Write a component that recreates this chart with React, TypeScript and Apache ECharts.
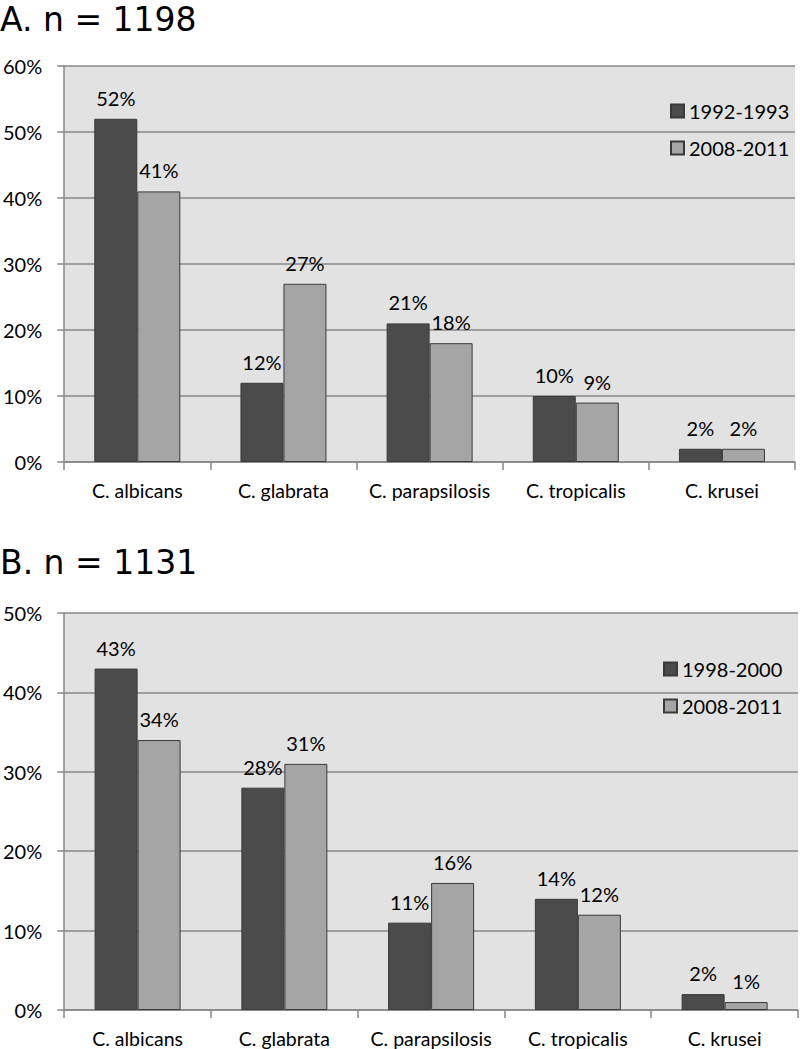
import React, { useEffect, useRef } from "react";
import * as echarts from "echarts";

const categories = ["C. albicans", "C. glabrata", "C. parapsilosis", "C. tropicalis", "C. krusei"];
const seriesA1Name = "1992-1993";
const seriesA2Name = "2008-2011";
const seriesA1 = [52, 12, 21, 10, 2];
const seriesA2 = [41, 27, 18, 9, 2];
const seriesB1Name = "1998-2000";
const seriesB2Name = "2008-2011";
const seriesB1 = [43, 28, 11, 14, 2];
const seriesB2 = [34, 31, 16, 12, 1];
const titleA = "A. n = 1198";
const titleB = "B. n = 1131";
const maxA = 60;
const maxB = 50;

const FONT = "Lato";
const FS = 20;
const DARK = "#4b4b4b";
const LIGHT = "#a5a5a5";
const BORDER = "#3a3a3a";
const GRIDC = "#878787";

export default function App() {
  const ref = useRef<HTMLDivElement>(null);
  useEffect(() => {
    if (!ref.current) return;
    const chart = echarts.init(ref.current, null, { renderer: "svg" });
    const xAxisBase = (gridIndex: number) => ({
      type: "category",
      gridIndex,
      data: categories,
      boundaryGap: true,
      axisLine: { show: true, lineStyle: { color: GRIDC, width: 1.5 } },
      axisTick: { show: true, length: 8, alignWithLabel: false, interval: 0, lineStyle: { color: GRIDC, width: 1.5 } },
      axisLabel: { color: "#000", fontFamily: FONT, fontSize: 19.5, margin: 18, interval: 0, hideOverlap: false },
    });
    const yAxisBase = (gridIndex: number, max: number) => ({
      type: "value",
      gridIndex,
      min: 0,
      max,
      interval: 10,
      axisLine: { show: true, lineStyle: { color: GRIDC, width: 1.5 } },
      axisTick: { show: true, inside: false, length: 7, lineStyle: { color: GRIDC, width: 1.5 } },
      axisLabel: { color: "#000", fontFamily: FONT, fontSize: FS, margin: 22, formatter: "{value}%" },
      splitLine: { show: true, lineStyle: { color: GRIDC, width: 1.5 } },
    });
    const bar = (name: string, data: number[], color: string, idx: number) => ({
      type: "bar",
      name,
      data,
      xAxisIndex: idx,
      yAxisIndex: idx,
      barWidth: 43,
      barGap: "0%",
      itemStyle: { color, borderColor: BORDER, borderWidth: 1 },
      label: {
        show: true,
        position: "top",
        distance: 11,
        color: "#000",
        fontFamily: FONT,
        fontSize: FS,
        formatter: "{c}%",
      },
    });
    const legendBase = (left: number, top: number, names: string[]) => ({
      orient: "vertical",
      left,
      top,
      padding: 0,
      itemWidth: 13,
      itemHeight: 13,
      itemGap: 17,
      icon: "rect",
      selectedMode: false,
      data: names,
      textStyle: { color: "#000", fontFamily: FONT, fontSize: FS, padding: [0, 0, 0, 0] },
    });
    const titleStyle = { fontFamily: "DejaVu Sans", fontSize: 33, fontWeight: "normal", color: "#000", lineHeight: 34 };
    chart.setOption({
      animation: false,
      backgroundColor: "#fff",
      title: [
        { text: titleA, left: 0, top: 2, padding: 0, textStyle: titleStyle },
        { text: titleB, left: 0, top: 545, padding: 0, textStyle: titleStyle },
      ],
      legend: [
        legendBase(670, 101, [seriesA1Name, seriesA2Name]),
        legendBase(663, 659, [seriesB1Name, seriesB2Name]),
      ],
      grid: [
        { left: 58, top: 66, width: 737, height: 396, show: true, backgroundColor: "#e2e2e2", borderWidth: 0, containLabel: false },
        { left: 60, top: 613, width: 738, height: 397, show: true, backgroundColor: "#e2e2e2", borderWidth: 0, containLabel: false },
      ],
      xAxis: [xAxisBase(0), xAxisBase(1)],
      yAxis: [yAxisBase(0, maxA), yAxisBase(1, maxB)],
      series: [
        bar(seriesA1Name, seriesA1, DARK, 0),
        bar(seriesA2Name, seriesA2, LIGHT, 0),
        bar(seriesB1Name, seriesB1, DARK, 1),
        bar(seriesB2Name, seriesB2, LIGHT, 1),
      ],
    });
    return () => chart.dispose();
  }, []);
  return (
    <div
      ref={ref}
      style={{ position: "absolute", left: 0, top: 0, width: 800, height: 1049 }}
    />
  );
}
